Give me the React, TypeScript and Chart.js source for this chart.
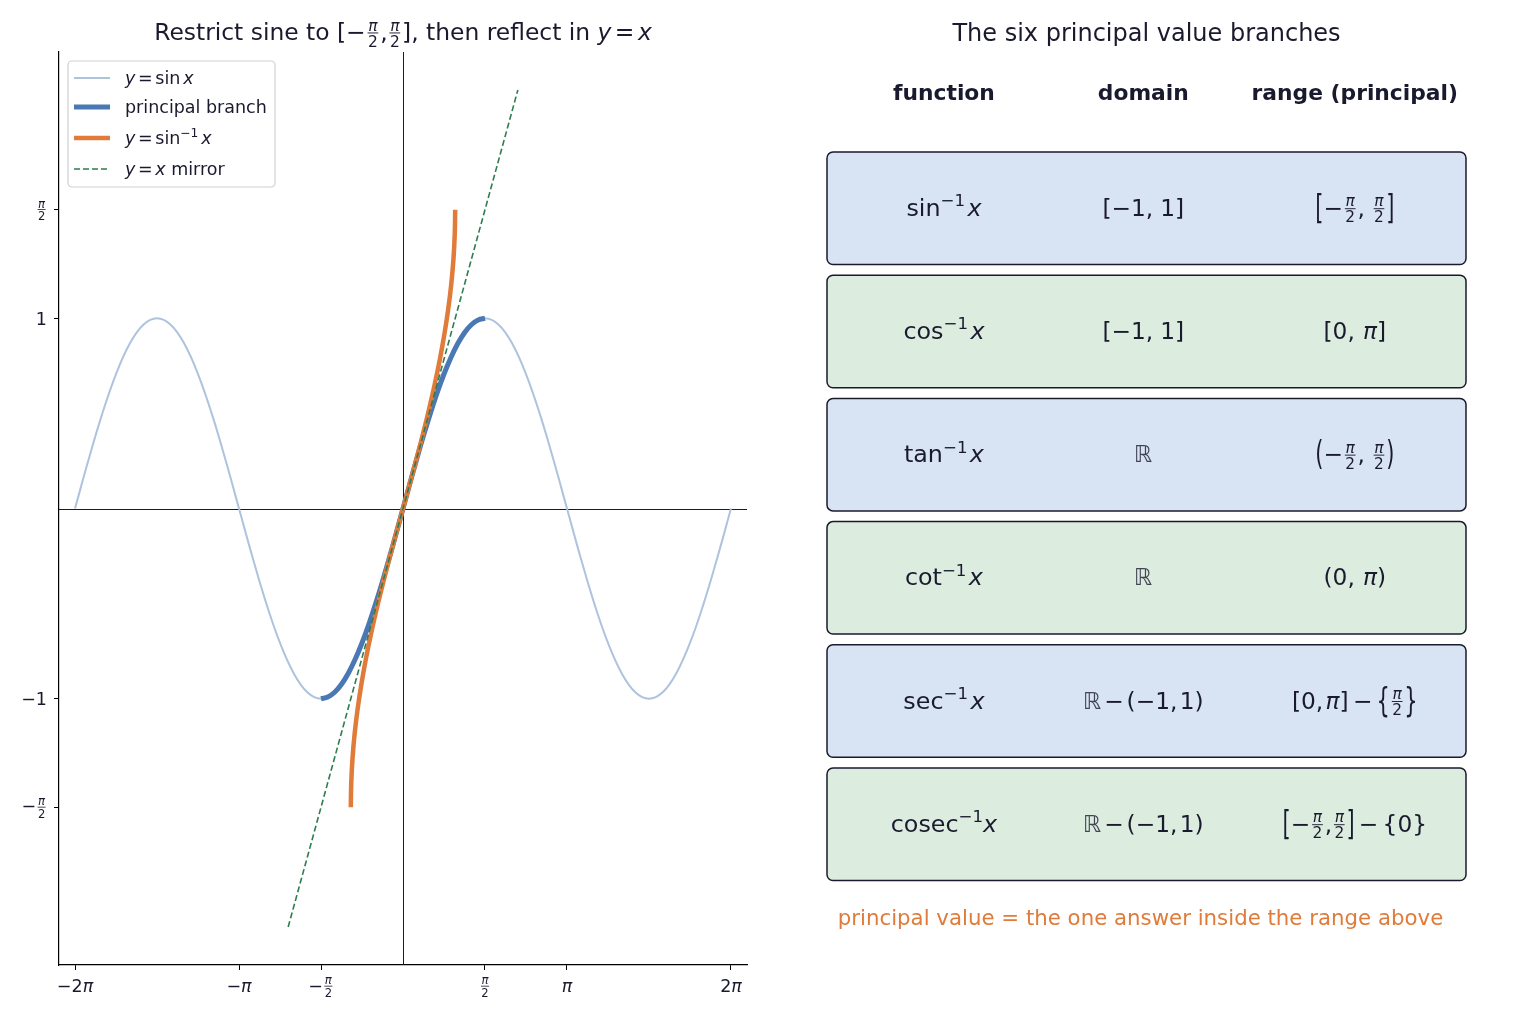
import { useEffect, useRef } from 'react';
import { Chart, registerables } from 'chart.js';

Chart.register(...registerables);

const PI = Math.PI;

// y = sin x read every π/12 from -2π to 2π
const SINE_START = -2 * PI;
const SINE_STEP = PI / 12;
const SINE_Y = [
  0, 0.259, 0.5, 0.707, 0.866, 0.966, 1, 0.966, 0.866, 0.707, 0.5, 0.259,
  0, -0.259, -0.5, -0.707, -0.866, -0.966, -1, -0.966, -0.866, -0.707, -0.5, -0.259,
  0, 0.259, 0.5, 0.707, 0.866, 0.966, 1, 0.966, 0.866, 0.707, 0.5, 0.259,
  0, -0.259, -0.5, -0.707, -0.866, -0.966, -1, -0.966, -0.866, -0.707, -0.5, -0.259,
  0,
];

// principal branch, read every π/24 on [-π/2, π/2]
const PRINCIPAL_START = -PI / 2;
const PRINCIPAL_STEP = PI / 24;
const PRINCIPAL_Y = [
  -1, -0.991, -0.966, -0.924, -0.866, -0.793, -0.707, -0.609, -0.5, -0.383, -0.259, -0.131,
  0, 0.131, 0.259, 0.383, 0.5, 0.609, 0.707, 0.793, 0.866, 0.924, 0.966, 0.991, 1,
];

const MIRROR_X = [-2.2, 2.2];

type Seg = (string | number)[];

const X_TICKS = [-2 * PI, -PI, -PI / 2, PI / 2, PI, 2 * PI];
const X_TICK_LABELS: Seg[][] = [
  [['t', '−2'], ['i', 'π']],
  [['t', '−'], ['i', 'π']],
  [['t', '−'], ['fr', 'π', '2']],
  [['fr', 'π', '2']],
  [['i', 'π']],
  [['t', '2'], ['i', 'π']],
];
const Y_TICKS = [-PI / 2, -1, 1, PI / 2];
const Y_TICK_LABELS: Seg[][] = [
  [['t', '−'], ['fr', 'π', '2']],
  [['t', '−1']],
  [['t', '1']],
  [['fr', 'π', '2']],
];

const LEGEND_LABELS: Seg[][] = [
  [['i', 'y'], ['sp', 0.15], ['t', '='], ['sp', 0.15], ['t', 'sin'], ['sp', 0.17], ['i', 'x']],
  [['t', 'principal branch']],
  [['i', 'y'], ['sp', 0.15], ['t', '='], ['sp', 0.15], ['t', 'sin'], ['sup', '−1'], ['sp', 0.17], ['i', 'x']],
  [['i', 'y'], ['sp', 0.15], ['t', '='], ['sp', 0.15], ['i', 'x'], ['t', ' mirror']],
];

const LEFT_TITLE: Seg[] = [
  ['t', 'Restrict sine to '], ['t', '[−'], ['fr', 'π', '2'], ['t', ','], ['fr', 'π', '2'],
  ['t', '], then reflect in '], ['i', 'y'], ['sp', 0.15], ['t', '='], ['sp', 0.15], ['i', 'x'],
];

const TABLE_TITLE = 'The six principal value branches';
const TABLE_HEADERS = ['function', 'domain', 'range (principal)'];
const FRAC: Seg = ['fr', 'π', '2'];
const ROW_FUNCTIONS: Seg[][] = [
  [['t', 'sin'], ['sup', '−1'], ['sp', 0.1], ['i', 'x']],
  [['t', 'cos'], ['sup', '−1'], ['sp', 0.1], ['i', 'x']],
  [['t', 'tan'], ['sup', '−1'], ['sp', 0.1], ['i', 'x']],
  [['t', 'cot'], ['sup', '−1'], ['sp', 0.1], ['i', 'x']],
  [['t', 'sec'], ['sup', '−1'], ['sp', 0.1], ['i', 'x']],
  [['t', 'cosec'], ['sup', '−1'], ['i', 'x']],
];
const ROW_DOMAINS: Seg[][] = [
  [['t', '[−1,'], ['sp', 0.3], ['t', '1]']],
  [['t', '[−1,'], ['sp', 0.3], ['t', '1]']],
  [['bb', 'ℝ']],
  [['bb', 'ℝ']],
  [['bb', 'ℝ'], ['sp', 0.12], ['t', '−'], ['sp', 0.12], ['t', '(−1,'], ['sp', 0.1], ['t', '1)']],
  [['bb', 'ℝ'], ['sp', 0.12], ['t', '−'], ['sp', 0.12], ['t', '(−1,'], ['sp', 0.1], ['t', '1)']],
];
const ROW_RANGES: Seg[][] = [
  [['big', '['], ['t', '−'], FRAC, ['t', ','], ['sp', 0.3], FRAC, ['big', ']']],
  [['t', '[0,'], ['sp', 0.35], ['i', 'π'], ['t', ']']],
  [['big', '('], ['t', '−'], FRAC, ['t', ','], ['sp', 0.3], FRAC, ['big', ')']],
  [['t', '(0,'], ['sp', 0.35], ['i', 'π'], ['t', ')']],
  [['t', '[0,'], ['sp', 0.1], ['i', 'π'], ['t', ']'], ['sp', 0.18], ['t', '−'], ['sp', 0.18], ['big', '{'], FRAC, ['big', '}']],
  [['big', '['], ['t', '−'], FRAC, ['t', ','], FRAC, ['big', ']'], ['sp', 0.18], ['t', '−'], ['sp', 0.18], ['t', '{0}']],
];
const FOOTNOTE = 'principal value = the one answer inside the range above';

const FONT = '"DejaVu Sans", sans-serif';
const INK = '#1a1a2e';

function drawRich(
  ctx: CanvasRenderingContext2D,
  segs: Seg[],
  x: number,
  y: number,
  size: number,
  align: 'left' | 'center' | 'right',
  color: string,
) {
  const f = (s: number, it = false) => `${it ? 'italic ' : ''}${s}px ${FONT}`;
  const axis = size * 0.3;
  const items = segs.map((seg) => {
    const kind = seg[0];
    if (kind === 'sp') return { w: size * (seg[1] as number), draw: (_x: number) => {} };
    if (kind === 'sup') {
      const s = size * 0.7;
      ctx.font = f(s);
      const txt = seg[1] as string;
      const w = ctx.measureText(txt).width;
      return { w, draw: (x0: number) => { ctx.font = f(s); ctx.fillText(txt, x0, y - size * 0.4); } };
    }
    if (kind === 'fr') {
      const s = size * 0.66;
      const num = seg[1] as string;
      const den = seg[2] as string;
      ctx.font = f(s, true);
      const nw = ctx.measureText(num).width;
      ctx.font = f(s);
      const dw = ctx.measureText(den).width;
      const w = Math.max(nw, dw) + s * 0.3;
      return {
        w,
        draw: (x0: number) => {
          const cx = x0 + w / 2;
          ctx.font = f(s, true);
          ctx.fillText(num, cx - nw / 2, y - axis - s * 0.16);
          ctx.font = f(s);
          ctx.fillText(den, cx - dw / 2, y - axis + s * 0.16 + s * 0.73);
          ctx.fillRect(x0 + s * 0.12, y - axis - 0.5, w - s * 0.24, Math.max(0.8, size * 0.04));
        },
      };
    }
    if (kind === 'big') {
      // stretched delimiter, slightly lighter weight via smaller font scaled up vertically
      const bs = size * 0.9;
      ctx.font = f(bs);
      const txt = seg[1] as string;
      const w = ctx.measureText(txt).width;
      return {
        w,
        draw: (x0: number) => {
          ctx.save();
          ctx.font = f(bs);
          ctx.translate(x0, y - axis);
          ctx.scale(1, 1.6);
          ctx.fillText(txt, 0, bs * 0.3);
          ctx.restore();
        },
      };
    }
    const s = size;
    const it = kind === 'i';
    ctx.font = f(s, it);
    const txt = seg[1] as string;
    const w = ctx.measureText(txt).width;
    return {
      w,
      draw: (x0: number) => {
        ctx.save();
        ctx.font = f(s, it);
        if (kind === 'bb') ctx.globalAlpha = 0.8;
        ctx.fillText(txt, x0, y);
        ctx.restore();
      },
    };
  });
  const total = items.reduce((a, b) => a + b.w, 0);
  let cur = align === 'center' ? x - total / 2 : align === 'right' ? x - total : x;
  ctx.save();
  ctx.fillStyle = color;
  ctx.textAlign = 'left';
  ctx.textBaseline = 'alphabetic';
  items.forEach((it) => {
    it.draw(cur);
    cur += it.w;
  });
  ctx.restore();
}

const axisLinesPlugin = {
  id: 'zeroLines',
  beforeDatasetsDraw(chart: any) {
    const { ctx, chartArea, scales } = chart;
    const x0 = Math.round(scales.x.getPixelForValue(0)) + 0.5;
    const y0 = Math.round(scales.y.getPixelForValue(0)) + 0.5;
    ctx.save();
    ctx.strokeStyle = INK;
    ctx.lineWidth = 1;
    ctx.beginPath();
    ctx.moveTo(x0, chartArea.top);
    ctx.lineTo(x0, chartArea.bottom);
    ctx.moveTo(chartArea.left, y0);
    ctx.lineTo(chartArea.right, y0);
    ctx.stroke();
    ctx.restore();
  },
};

const leftDecorPlugin = {
  id: 'leftDecor',
  afterDraw(chart: any) {
    const { ctx, chartArea, scales } = chart;
    const midX = (chartArea.left + chartArea.right) / 2;
    drawRich(ctx, LEFT_TITLE, midX, 40, 23.4, 'center', INK);

    X_TICKS.forEach((v, i) => {
      drawRich(ctx, X_TICK_LABELS[i], scales.x.getPixelForValue(v), chartArea.bottom + 26.5, 17.5, 'center', INK);
    });
    Y_TICKS.forEach((v, i) => {
      const py = scales.y.getPixelForValue(v);
      const isFrac = Y_TICK_LABELS[i].some((s) => s[0] === 'fr');
      drawRich(ctx, Y_TICK_LABELS[i], chartArea.left - 12, py + (isFrac ? 5.2 : 6.4), 17.5, 'right', INK);
    });

    // legend
    const lx = chartArea.left + 9;
    const ly = chartArea.top + 9;
    ctx.save();
    ctx.fillStyle = 'rgba(255,255,255,0.85)';
    ctx.strokeStyle = '#d0d0d0';
    ctx.lineWidth = 1.2;
    ctx.beginPath();
    ctx.roundRect(lx, ly, 207, 126, 4);
    ctx.fill();
    ctx.stroke();
    const rowsY = [78, 107, 138, 169];
    chart.data.datasets.forEach((ds: any, k: number) => {
      const yy = rowsY[k];
      ctx.save();
      ctx.strokeStyle = ds.borderColor;
      ctx.lineWidth = ds.borderWidth;
      ctx.setLineDash(ds.borderDash || []);
      ctx.beginPath();
      ctx.moveTo(lx + 6, yy);
      ctx.lineTo(lx + 42, yy);
      ctx.stroke();
      ctx.restore();
      drawRich(ctx, LEGEND_LABELS[k], lx + 57, yy + 6, 17.5, 'left', INK);
    });
    ctx.restore();
  },
};

const tablePlugin = {
  id: 'principalTable',
  afterDraw(chart: any) {
    const { ctx, chartArea, scales } = chart;
    const midX = (chartArea.left + chartArea.right) / 2;
    const colPos = [0.183, 0.495, 0.826];
    const rowFill = 0.913;

    ctx.save();
    ctx.fillStyle = INK;
    ctx.textAlign = 'center';
    ctx.textBaseline = 'alphabetic';
    ctx.font = `24px ${FONT}`;
    ctx.fillText(TABLE_TITLE, midX, 41);
    ctx.font = `bold 21.8px ${FONT}`;
    TABLE_HEADERS.forEach((h, i) => {
      ctx.fillText(h, scales.x.getPixelForValue(colPos[i]), 100);
    });
    ctx.restore();

    ROW_FUNCTIONS.forEach((fn, i) => {
      const top = scales.y.getPixelForValue(i);
      const bottom = scales.y.getPixelForValue(i + rowFill);
      const left = scales.x.getPixelForValue(0);
      const right = scales.x.getPixelForValue(1);
      ctx.save();
      ctx.fillStyle = i % 2 === 0 ? '#d8e4f3' : '#dcede0';
      ctx.strokeStyle = INK;
      ctx.lineWidth = 1.5;
      ctx.beginPath();
      ctx.roundRect(left, top, right - left, bottom - top, 6);
      ctx.fill();
      ctx.stroke();
      ctx.restore();
      const cy = (top + bottom) / 2;
      const base = cy + 7.5;
      drawRich(ctx, fn, scales.x.getPixelForValue(colPos[0]), base, 23.8, 'center', INK);
      drawRich(ctx, ROW_DOMAINS[i], scales.x.getPixelForValue(colPos[1]), base, 23.3, 'center', INK);
      drawRich(ctx, ROW_RANGES[i], scales.x.getPixelForValue(colPos[2]), base, 23.3, 'center', INK);
    });

    ctx.save();
    ctx.fillStyle = '#e07b39';
    ctx.textAlign = 'center';
    ctx.font = `21.3px ${FONT}`;
    ctx.fillText(FOOTNOTE, midX - 6, 925);
    ctx.restore();
  },
};

export default function App() {
  const leftRef = useRef<HTMLCanvasElement | null>(null);
  const rightRef = useRef<HTMLCanvasElement | null>(null);

  useEffect(() => {
    if (!leftRef.current || !rightRef.current) return;

    const sinePts = SINE_Y.map((y, i) => ({ x: SINE_START + i * SINE_STEP, y }));
    const branchPts = PRINCIPAL_Y.map((y, i) => ({ x: PRINCIPAL_START + i * PRINCIPAL_STEP, y }));
    // reflect the principal branch in y = x
    const inversePts = branchPts.map((p) => ({ x: p.y, y: p.x }));
    const mirrorPts = MIRROR_X.map((v) => ({ x: v, y: v }));

    const left = new Chart(leftRef.current, {
      type: 'scatter',
      data: {
        datasets: [
          { label: 'y = sin x', data: sinePts, showLine: true, borderColor: '#aec3dd', borderWidth: 2, pointRadius: 0, tension: 0.4, order: 4 },
          { label: 'principal branch', data: branchPts, showLine: true, borderColor: '#4a78b4', borderWidth: 5, pointRadius: 0, tension: 0.4, order: 3 },
          { label: 'y = sin^-1 x', data: inversePts, showLine: true, borderColor: '#e07b39', borderWidth: 4.5, pointRadius: 0, tension: 0.4, order: 2 },
          { label: 'y = x mirror', data: mirrorPts, showLine: true, borderColor: '#2e7d4f', borderWidth: 1.6, borderDash: [6, 3], pointRadius: 0, order: 1 },
        ],
      } as any,
      options: {
        responsive: false,
        animation: false,
        events: [],
        layout: { padding: { left: 0, right: 53, top: 52, bottom: 0 } },
        plugins: { legend: { display: false }, tooltip: { enabled: false } },
        scales: {
          x: {
            type: 'linear',
            min: -6.59,
            max: 6.59,
            afterBuildTicks: (s: any) => { s.ticks = X_TICKS.map((value) => ({ value })); },
            afterFit: (s: any) => { s.height = 59; },
            ticks: { display: false },
            grid: { drawOnChartArea: false, drawTicks: true, tickLength: 5, color: '#000', lineWidth: 1 },
            border: { display: true, color: '#000', width: 1.2 },
          },
          y: {
            type: 'linear',
            min: -2.4,
            max: 2.4,
            afterBuildTicks: (s: any) => { s.ticks = Y_TICKS.map((value) => ({ value })); },
            afterFit: (s: any) => { s.width = 59; },
            ticks: { display: false },
            grid: { drawOnChartArea: false, drawTicks: true, tickLength: 5, color: '#000', lineWidth: 1 },
            border: { display: true, color: '#000', width: 1.2 },
          },
        },
      } as any,
      plugins: [axisLinesPlugin, leftDecorPlugin],
    });

    const right = new Chart(rightRef.current, {
      type: 'scatter',
      data: { datasets: [] },
      options: {
        responsive: false,
        animation: false,
        events: [],
        layout: { padding: { left: 27, right: 70, top: 152, bottom: 132.8 } },
        plugins: { legend: { display: false }, tooltip: { enabled: false } },
        scales: {
          x: { type: 'linear', min: 0, max: 1, display: false },
          y: { type: 'linear', min: 0, max: ROW_FUNCTIONS.length, reverse: true, display: false },
        },
      } as any,
      plugins: [tablePlugin],
    });

    return () => {
      left.destroy();
      right.destroy();
    };
  }, []);

  return (
    <div style={{ position: 'fixed', left: 0, top: 0, width: 1536, height: 1024, background: '#fff' }}>
      <canvas ref={leftRef} width={800} height={1024} style={{ position: 'absolute', left: 0, top: 0, width: 800, height: 1024 }} />
      <canvas ref={rightRef} width={736} height={1024} style={{ position: 'absolute', left: 800, top: 0, width: 736, height: 1024 }} />
    </div>
  );
}
